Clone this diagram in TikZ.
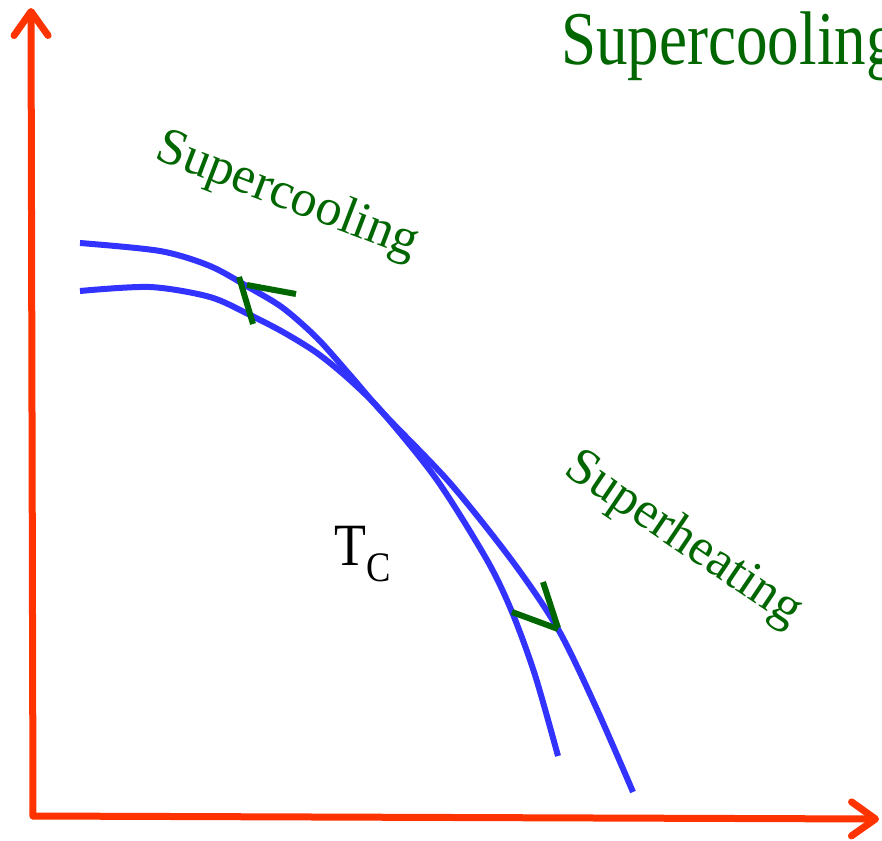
\documentclass[tikz,border=0pt]{standalone}
\usepackage{fontspec}
\newfontfamily\timesfont{Liberation Serif}
\setmainfont{Liberation Serif}
\usetikzlibrary{arrows.meta}
\definecolor{axisred}{RGB}{255,51,0}
\definecolor{curveblue}{RGB}{51,51,255}
\definecolor{labelgreen}{RGB}{0,102,0}
\tikzset{
  axisline/.style={draw=axisred, line width=7pt, line cap=round,
    -{Straight Barb[round, length=24pt, width=34pt, line width=7pt]}},
  curveline/.style={draw=curveblue, line width=6pt},
  markline/.style={draw=labelgreen, line width=6pt},
  greenlabel/.style={text=labelgreen, inner sep=0pt, font=\timesfont},
}
\begin{document}
\begin{tikzpicture}[x=1pt, y=-1pt]
\useasboundingbox (0,0) rectangle (882,840);
\clip (0,0) rectangle (882,840);
% axes
\coordinate (origin) at (33,816);
\coordinate (ytip) at (31,8);
\coordinate (xtip) at (879,819);
\draw[axisline] (origin) -- (ytip);
\draw[axisline] (origin) -- (xtip);
% curves
\draw[curveline] plot[smooth, tension=0.5] coordinates {(80,243) (160,251) (210,266) (250,288) (283,308) (317,338) (350,375) (383,413) (450,483) (513,562) (558,629) (595,705) (633,792)};
\draw[curveline] plot[smooth, tension=0.5] coordinates {(80,291) (150,287) (210,297) (250,315) (283,332) (317,353) (350,380) (383,413) (437,480) (487,560) (512,612) (535,675) (558,756)};
% green marks
\coordinate (m1a) at (239,277); \coordinate (m1b) at (253,324);
\coordinate (m1c) at (247,285); \coordinate (m1d) at (296,294);
\coordinate (m2a) at (543,582); \coordinate (m2b) at (558,628);
\coordinate (m2c) at (512,612); \coordinate (m2d) at (558,629);
\draw[markline] (m1a) -- (m1b);
\draw[markline] (m1c) -- (m1d);
\draw[markline] (m2a) -- (m2b);
\draw[markline] (m2c) -- (m2d);
% labels
\node[greenlabel, anchor=base west] (topsc) at (561,65) {\scalebox{0.83}[1]{\fontsize{76}{80}\selectfont Supercooling}};
\node[greenlabel, rotate=-21] (midsc) at (287,197) {\fontsize{52}{56}\selectfont Supercooling};
\node[greenlabel, rotate=-34] (sh) at (683,540) {\fontsize{52}{56}\selectfont Superheating};
\node[inner sep=0pt, anchor=base west, font=\timesfont] (tc) at (334,565) {\scalebox{0.87}[1]{\fontsize{60}{64}\selectfont T}\raisebox{-16pt}{\scalebox{0.87}[1]{\fontsize{42}{44}\selectfont C}}};
\end{tikzpicture}
\end{document}
